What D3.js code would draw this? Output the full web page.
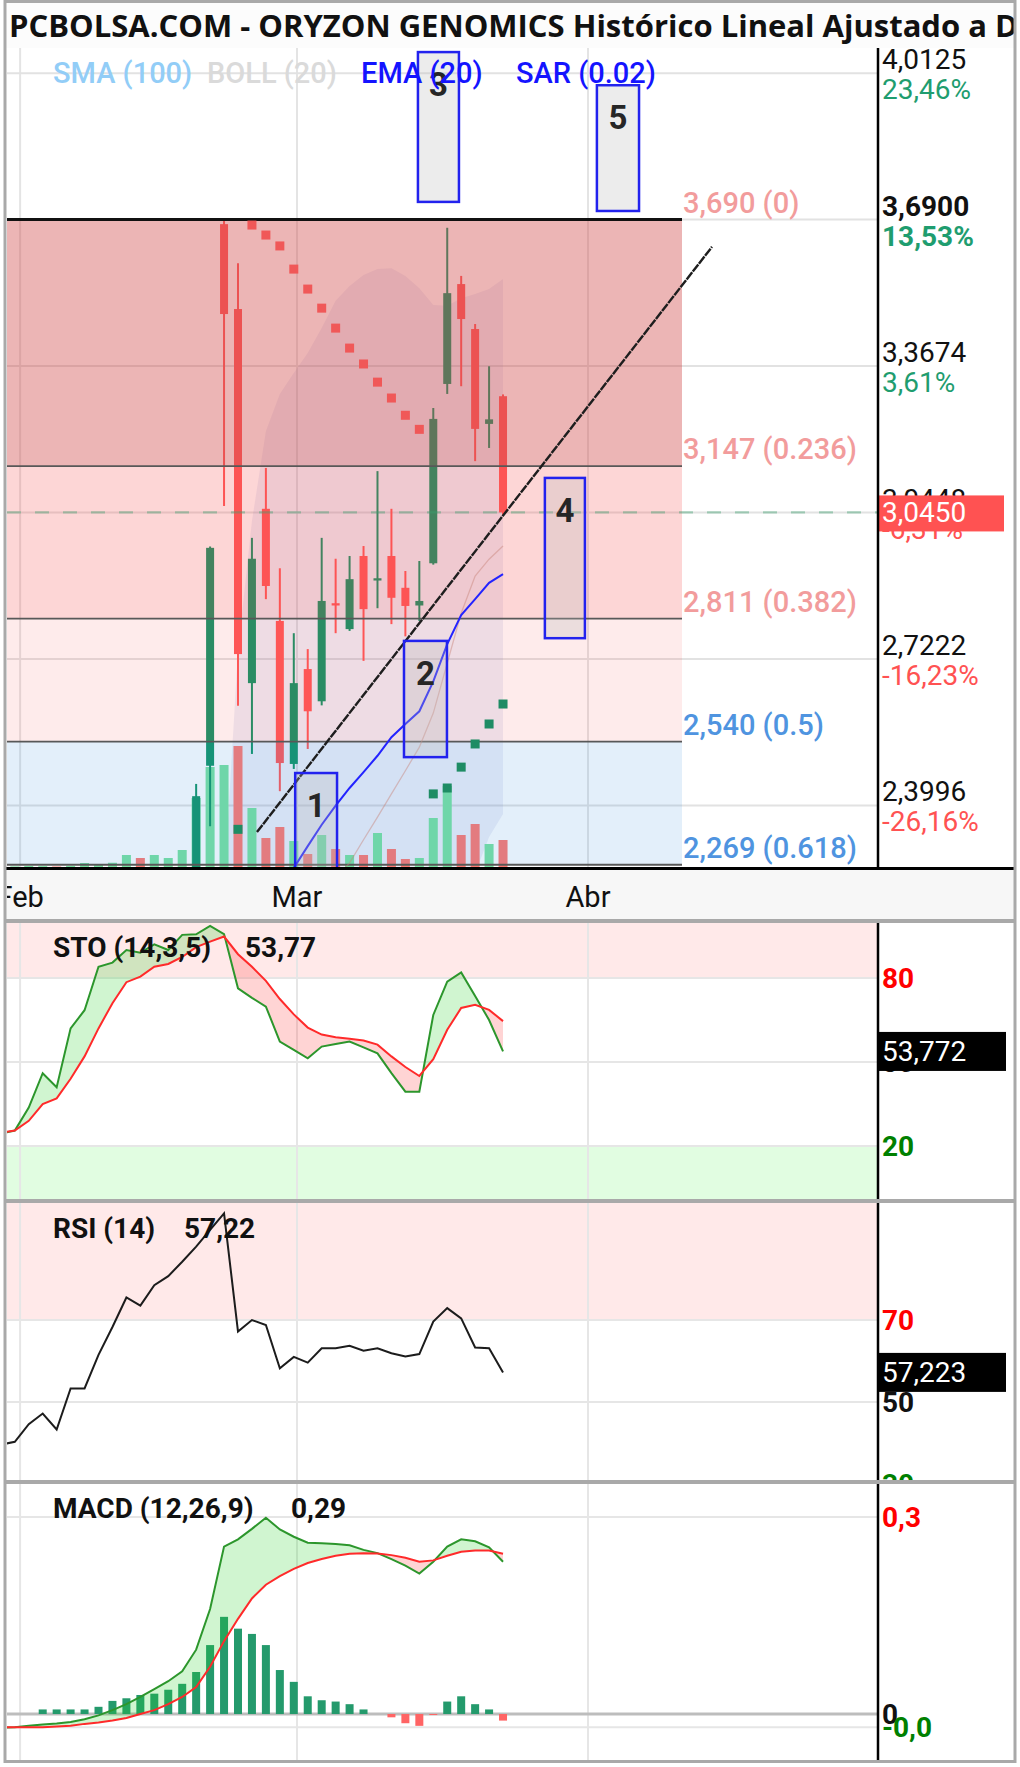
<!DOCTYPE html>
<html>
<head>
<meta charset="utf-8">
<script src="https://cdn.jsdelivr.net/npm/d3@7"></script>
<style>
  body { margin: 0; background: #fff; }
  svg { display: block; font-family: Roboto, "Noto Sans", sans-serif; }
</style>
</head>
<body>
<svg id="chart" width="1020" height="1767"></svg>
<script>
// ---------- data: one entry per trading day (index 0..36) ----------
const title = "PCBOLSA.COM - ORYZON GENOMICS Histórico Lineal Ajustado a D";
const monthLabels = ["Feb", "Mar", "Abr"];
const monthIdx = [1.38, 21.23, 42.09];

const open  = [1.70,1.72,1.73,1.76,1.78,1.75,1.80,1.81,1.86,1.91,1.94,1.92,1.97,1.99,
               2.03,2.487,3.680,3.493,2.669,3.053,2.806,2.491,2.700,2.629,2.845,2.788,2.949,2.895,2.949,2.879,2.840,2.933,3.328,3.548,3.449,3.240,3.301];
const high  = [1.74,1.75,1.78,1.80,1.79,1.82,1.83,1.88,1.93,1.96,1.95,1.99,2.01,2.06,
               2.447,2.970,3.690,3.594,2.989,3.143,2.922,2.779,2.744,2.989,2.943,2.949,2.971,3.136,3.053,2.916,2.938,3.275,3.672,3.566,3.460,3.367,3.305];
const low   = [1.68,1.70,1.72,1.74,1.73,1.74,1.78,1.80,1.84,1.89,1.90,1.91,1.95,1.97,
               2.00,2.354,3.059,2.619,2.513,2.854,2.431,2.480,2.524,2.620,2.779,2.784,2.718,2.834,2.799,2.772,2.806,2.930,3.306,3.323,3.158,3.187,3.040];
const close = [1.72,1.73,1.76,1.78,1.75,1.80,1.81,1.86,1.91,1.94,1.92,1.97,1.99,2.03,
               2.420,2.967,3.482,2.733,2.943,2.883,2.493,2.669,2.607,2.850,2.840,2.898,2.832,2.900,2.857,2.839,2.850,3.251,3.528,3.471,3.229,3.250,3.045];
const volume = [30,25,40,35,20,45,160,80,170,480,360,480,360,680,
                2760,4000,4080,4840,2360,1160,1600,1040,520,1280,720,480,480,1360,720,320,360,1960,3240,1280,1720,920,1080];

const ema20 = [1.72,1.72,1.73,1.73,1.73,1.74,1.74,1.75,1.76,1.78,1.79,1.80,1.82,1.84,1.88,1.96,2.06,2.12,2.17,2.21,2.235,
               2.262,2.310,2.357,2.399,2.438,2.473,2.509,2.550,2.579,2.607,2.673,2.755,2.819,2.854,2.890,2.909];
const bollUp  = [2.02,2.01,2.00,2.00,1.99,1.99,2.00,2.01,2.03,2.05,2.06,2.08,2.10,2.12,2.15,2.19,2.22,
                 2.740,3.026,3.224,3.306,3.352,3.396,3.451,3.511,3.544,3.568,3.581,3.583,3.566,3.539,3.502,3.500,3.517,3.526,3.537,3.559];
const bollMid = [1.80,1.80,1.80,1.79,1.79,1.79,1.79,1.80,1.80,1.81,1.82,1.83,1.84,1.85,1.87,1.90,1.95,1.99,2.04,2.08,2.12,2.15,2.19,2.21,2.24,
                 2.273,2.324,2.374,2.425,2.476,2.528,2.603,2.713,2.823,2.905,2.942,2.971];
const bollLow = [1.58,1.59,1.60,1.58,1.59,1.59,1.58,1.59,1.57,1.57,1.58,1.58,1.58,1.58,1.59,1.61,1.68,1.24,1.06,0.94,
                 0.93,0.94,0.98,0.97,0.97,1.00,1.08,1.17,1.27,1.38,1.52,1.70,1.93,2.13,2.25,2.33,2.381];
const sar = [null,null,null,null,null,null,null,null,null,null,null,null,null,null,null,null,null,
             2.347,3.678,3.656,3.632,3.581,3.537,3.495,3.451,3.407,3.372,3.332,3.297,3.259,3.228,
             2.425,2.438,2.484,2.535,2.579,2.623];

const stoK = [24.5,25.5,33.7,46,41,62,68.5,84,85.5,90,89,92,90,95.4,95.6,98.6,95.7,76.3,72.9,69.8,
              57.3,54.3,51.3,55.5,56.4,57.3,55.2,53.1,46,39.4,39.4,66.8,78.7,82,73.6,65,53.772];
const stoD = [24.8,25.5,29,35,37,44,52,62,71,78.5,80.5,84,85,87.5,91,93,94.8,88.5,84,79,
              72.5,67,62.3,59.8,58.8,58.3,57.7,56.2,52,48.2,45,51,61.5,69.3,70.4,68.6,64.6];
const rsi = [39.6,40.3,44.6,47.2,43.3,53.3,53.3,61.5,68.3,75.5,73.5,78.5,80.7,84.2,87.9,92,96,67.2,70,68.8,
             58.2,61,59.6,63.1,63.1,63.7,62.5,63.1,61.9,61.1,61.7,69.6,72.9,70.4,63.3,63.1,57.223];
const macd = [-0.021,-0.020,-0.018,-0.016,-0.0145,-0.012,-0.008,-0.002,0.006,0.015,0.026,0.038,0.050,0.065,0.098,0.160,0.255,0.266,0.282,0.299,
              0.281,0.270,0.261,0.260,0.259,0.257,0.250,0.245,0.236,0.226,0.214,0.232,0.255,0.266,0.263,0.254,0.232];
const signal = [-0.020,-0.020,-0.020,-0.020,-0.019,-0.018,-0.015,-0.013,-0.010,-0.006,0.000,0.006,0.015,0.026,0.041,0.072,0.111,0.145,0.176,0.197,
                0.210,0.221,0.230,0.236,0.241,0.244,0.245,0.2445,0.242,0.238,0.232,0.234,0.241,0.247,0.249,0.249,0.244];
const hist = [0,0,0,0.007,0.007,0.007,0.007,0.011,0.020,0.024,0.029,0.031,0.037,0.046,0.064,0.105,0.148,0.130,0.122,0.105,
              0.067,0.049,0.027,0.021,0.019,0.015,0.007,0,-0.005,-0.014,-0.018,-0.0015,0.019,0.027,0.015,0.007,-0.010];
const macdShown = 0.29;

// right price axis
const priceTicks = [4.0125, 3.69, 3.3674, 3.0448, 2.7222, 2.3996];
const tickPct = ["23,46%", "13,53%", "3,61%", "-6,31%", "-16,23%", "-26,16%"];

// fibonacci retracement
const fibRatio = ["0", "0.236", "0.382", "0.5", "0.618"];
const fibPrice = [3.690, 3.147, 2.811, 2.540, 2.269];
const fibEndIdx = 48.83;

// drawn annotations (index / price)
const trendIdx = [18.36, 50.98];
const trendPrice = [2.341, 3.630];
const boxLabels = ["1", "2", "3", "4", "5"];
const boxFrom = [21.1, 28.9, 29.9, 39.0, 42.73];
const boxTo   = [24.1, 31.98, 32.84, 41.87, 45.75];
const boxHigh = [2.471, 2.762, 4.059, 3.121, 3.986];
const boxLow  = [2.20, 2.506, 3.729, 2.768, 3.709];

const legendNames = ["SMA (100)", "BOLL (20)", "EMA (20)", "SAR (0.02)"];

// ---------- layout ----------
const W = 1020, H = 1767;
const left = 7, right = 877, axisX = 878;
const mainTop = 48, mainBottom = 867;
const stoP = {top: 923, bottom: 1199};
const rsiP = {top: 1203, bottom: 1480};
const macdP = {top: 1484, bottom: 1760};

const comma = s => s.replace(".", ",");
const idx = d3.range(close.length);

const svg = d3.select("#chart");
const defs = svg.append("defs");
let clipN = 0;
function clip(x0, y0, w, h) {
  const id = "c" + (clipN++);
  defs.append("clipPath").attr("id", id).append("rect")
    .attr("x", x0).attr("y", y0).attr("width", w).attr("height", h);
  return "url(#" + id + ")";
}

// scales
const x = d3.scaleLinear().domain([0.44, 62.81]).range([left, right]);
const y = d3.scaleLinear().domain([2.264, 4.068]).range([mainBottom, mainTop]);
const yVol = d3.scaleLinear().domain([0, d3.max(volume)]).range([0, 121]);
const ySto = d3.scaleLinear().domain([1.07, 99.64]).range([stoP.bottom, stoP.top]);
const yRsi = d3.scaleLinear().domain([30.98, 98.54]).range([rsiP.bottom, rsiP.top]);
const yMacd = d3.scaleLinear().domain([-0.07, 0.3503]).range([macdP.bottom, macdP.top]);

svg.append("rect").attr("width", W).attr("height", H).attr("fill", "#fff");

// ---------- title ----------
svg.append("rect").attr("x", 5).attr("y", 2).attr("width", 1010).attr("height", 46).attr("fill", "#fcfcfc");
svg.append("g").attr("clip-path", clip(5, 0, 1010, 48))
  .append("text")
  .attr("x", 9).attr("y", 37)
  .attr("font-family", "'Open Sans', 'Noto Sans', sans-serif")
  .attr("font-weight", 700).attr("font-size", 31).attr("fill", "#111")
  .text(title);

// ---------- main price chart ----------
const main = svg.append("g").attr("clip-path", clip(left, mainTop, right - left, mainBottom - mainTop));

main.selectAll(".vgrid").data(monthIdx).join("line")
  .attr("x1", d => x(d)).attr("x2", d => x(d))
  .attr("y1", mainTop).attr("y2", mainBottom)
  .attr("stroke", "#e4e4e4").attr("stroke-width", 2);

main.selectAll(".hgrid").data(priceTicks).join("line")
  .attr("x1", left).attr("x2", right)
  .attr("y1", d => y(d)).attr("y2", d => y(d))
  .attr("stroke", "#e2e2e2").attr("stroke-width", 2);

// bollinger band fill
main.append("path").datum(idx)
  .attr("d", d3.area().x(i => x(i)).y0(i => y(bollLow[i])).y1(i => y(bollUp[i])))
  .attr("fill", "rgba(120,130,200,0.13)");

// volume
main.selectAll(".vol").data(idx).join("rect")
  .attr("x", i => x(i) - 4.5).attr("width", 9)
  .attr("y", i => mainBottom - yVol(volume[i]))
  .attr("height", i => yVol(volume[i]))
  .attr("fill", i => (i > 0 && close[i] < close[i - 1]) ? "#ff7a72" : "#7ae3a2");

// candles
const candleColor = i => close[i] >= open[i] ? "#149669" : "#ff5a5a";
main.selectAll(".wick").data(idx).join("line")
  .attr("x1", i => x(i)).attr("x2", i => x(i))
  .attr("y1", i => y(high[i])).attr("y2", i => y(low[i]))
  .attr("stroke", candleColor).attr("stroke-width", 2);
main.selectAll(".body").data(idx).join("rect")
  .attr("x", i => x(i) - 4).attr("width", 8)
  .attr("y", i => y(Math.max(open[i], close[i])))
  .attr("height", i => Math.max(2, Math.abs(y(open[i]) - y(close[i]))))
  .attr("fill", candleColor);

// fibonacci zones (translucent, over the candles)
const zoneColors = ["rgba(207,70,70,0.4)", "rgba(245,60,60,0.21)", "rgba(245,60,60,0.10)", "rgba(40,130,220,0.13)"];
const fibEndX = x(fibEndIdx);
main.selectAll(".fibzone").data(d3.range(fibPrice.length - 1)).join("rect")
  .attr("x", left).attr("width", fibEndX - left)
  .attr("y", k => y(fibPrice[k]))
  .attr("height", k => y(fibPrice[k + 1]) - y(fibPrice[k]))
  .attr("fill", k => zoneColors[k]);
main.selectAll(".fibline").data(fibPrice).join("line")
  .attr("x1", left).attr("x2", fibEndX)
  .attr("y1", d => y(d)).attr("y2", d => y(d))
  .attr("stroke", (d, k) => k === 0 ? "#111" : "#585858")
  .attr("stroke-width", (d, k) => k === 0 ? 3 : 1.8);

// bollinger middle
main.append("path").datum(idx)
  .attr("d", d3.line().x(i => x(i)).y(i => y(bollMid[i])))
  .attr("fill", "none").attr("stroke", "rgba(200,130,120,0.45)").attr("stroke-width", 1.3);

// EMA
main.append("path").datum(idx)
  .attr("d", d3.line().x(i => x(i)).y(i => y(ema20[i])))
  .attr("fill", "none").attr("stroke", "#2323ff").attr("stroke-width", 2);

// SAR
main.selectAll(".sar").data(idx.filter(i => sar[i] !== null)).join("rect")
  .attr("x", i => x(i) - 4.5).attr("y", i => y(sar[i]) - 4.5)
  .attr("width", 9).attr("height", 9)
  .attr("fill", i => sar[i] > close[i] ? "#f05858" : "#1e8c64");

// trend line
main.append("line")
  .attr("x1", x(trendIdx[0])).attr("y1", y(trendPrice[0]))
  .attr("x2", x(trendIdx[1])).attr("y2", y(trendPrice[1]))
  .attr("stroke", "#1e1e1e").attr("stroke-width", 2.4).attr("stroke-dasharray", "9,1");

// last price line
const last = close[close.length - 1];
main.append("line")
  .attr("x1", left).attr("x2", right)
  .attr("y1", y(last)).attr("y2", y(last))
  .attr("stroke", "rgba(60,160,110,0.42)").attr("stroke-width", 2.2).attr("stroke-dasharray", "14,14");

// numbered boxes
const boxes = main.selectAll(".box").data(boxLabels).join("g");
boxes.append("rect")
  .attr("x", (d, k) => x(boxFrom[k])).attr("width", (d, k) => x(boxTo[k]) - x(boxFrom[k]))
  .attr("y", (d, k) => y(boxHigh[k])).attr("height", (d, k) => y(boxLow[k]) - y(boxHigh[k]))
  .attr("fill", "rgba(185,185,185,0.28)").attr("stroke", "#2222ee").attr("stroke-width", 2.5);
boxes.append("text")
  .attr("x", (d, k) => (x(boxFrom[k]) + x(boxTo[k])) / 2)
  .attr("y", (d, k) => y(boxHigh[k]) + 44)
  .attr("text-anchor", "middle").attr("font-size", 33).attr("font-weight", 700).attr("fill", "#262626")
  .text(d => d);

// fib labels
svg.selectAll(".fiblab").data(fibPrice).join("text")
  .attr("x", fibEndX + 1).attr("y", d => y(d) - 7)
  .attr("font-size", 29).attr("font-weight", 500)
  .attr("fill", (d, k) => k < 3 ? "#f29c9c" : "#4f94e0")
  .text((d, k) => comma(d.toFixed(3)) + " (" + fibRatio[k] + ")");

// legend
const legendX = [53, 207, 361, 516];
const legendColors = ["#92cdf7", "#dadada", "#1414ff", "#1414ff"];
svg.selectAll(".legend").data(legendNames).join("text")
  .attr("x", (d, k) => legendX[k]).attr("y", 83)
  .attr("font-size", 29).attr("font-weight", 500)
  .attr("fill", (d, k) => legendColors[k])
  .text(d => d);

// right axis labels
const axisLab = svg.append("g");
priceTicks.forEach((v, k) => {
  axisLab.append("text").attr("x", 882).attr("y", y(v) - 4)
    .attr("font-size", 28).attr("font-weight", v === fibPrice[0] ? 700 : 400).attr("fill", "#111")
    .text(comma(v.toFixed(4)));
  axisLab.append("text").attr("x", 882).attr("y", y(v) + 26)
    .attr("font-size", 28).attr("font-weight", v === fibPrice[0] ? 700 : 400)
    .attr("fill", tickPct[k][0] === "-" ? "#ff5252" : "#1f9d6f")
    .text(tickPct[k]);
});
axisLab.append("rect").attr("x", axisX - 1).attr("y", y(last) - 17).attr("width", 127).attr("height", 36).attr("fill", "#ff5252");
axisLab.append("text").attr("x", 882).attr("y", y(last) + 10)
  .attr("font-size", 28).attr("fill", "#fff").text(comma(last.toFixed(4)));

// x axis strip
svg.append("rect").attr("x", 5).attr("y", 869).attr("width", 1010).attr("height", 51).attr("fill", "#f7f7f7");
svg.append("line").attr("x1", 5).attr("x2", 1015).attr("y1", 868.5).attr("y2", 868.5)
  .attr("stroke", "#000").attr("stroke-width", 3);
svg.append("g").attr("clip-path", clip(left, 870, right - left, 50))
  .selectAll("text").data(monthLabels).join("text")
  .attr("x", (d, k) => x(monthIdx[k])).attr("y", 907)
  .attr("text-anchor", "middle").attr("font-size", 29).attr("fill", "#111")
  .text(d => d);

// ---------- indicator panels ----------
function panel(p, yS, zones, grids) {
  const g = svg.append("g").attr("clip-path", clip(left, p.top, right - left, p.bottom - p.top));
  zones.forEach(z => {
    g.append("rect").attr("x", left).attr("width", right - left)
      .attr("y", yS(z[1])).attr("height", yS(z[0]) - yS(z[1])).attr("fill", z[2]);
  });
  g.selectAll(".vg").data(monthIdx).join("line")
    .attr("x1", d => x(d)).attr("x2", d => x(d)).attr("y1", p.top).attr("y2", p.bottom)
    .attr("stroke", "#e6e6e6").attr("stroke-width", 2);
  grids.forEach(gr => {
    g.append("line").attr("x1", left).attr("x2", right).attr("y1", yS(gr[0])).attr("y2", yS(gr[0]))
      .attr("stroke", gr[1]).attr("stroke-width", gr[2]);
  });
  return g;
}

// fill between two lines: green where a is above b, red where below
function diffFill(g, a, b, yS, p, upColor, downColor) {
  const idA = "d" + (clipN++), idB = "d" + (clipN++);
  defs.append("clipPath").attr("id", idA).append("path").datum(idx)
    .attr("d", d3.area().x(i => x(i)).y0(p.bottom + 50).y1(i => yS(a[i])));
  defs.append("clipPath").attr("id", idB).append("path").datum(idx)
    .attr("d", d3.area().x(i => x(i)).y0(p.top - 50).y1(i => yS(a[i])));
  g.append("path").datum(idx).attr("clip-path", "url(#" + idA + ")")
    .attr("d", d3.area().x(i => x(i)).y0(i => yS(b[i])).y1(p.top - 50)).attr("fill", upColor);
  g.append("path").datum(idx).attr("clip-path", "url(#" + idB + ")")
    .attr("d", d3.area().x(i => x(i)).y0(i => yS(b[i])).y1(p.bottom + 50)).attr("fill", downColor);
}

function valueLabels(p, yS, labels) {
  const g = svg.append("g").attr("clip-path", clip(axisX, p.top, 140, p.bottom - p.top));
  labels.forEach(l => {
    g.append("text").attr("x", 882).attr("y", yS(l[0]) + 10)
      .attr("font-size", 28).attr("font-weight", 700).attr("fill", l[2]).text(l[1]);
  });
  return g;
}

function lastBox(g, p, yS, v) {
  g.append("rect").attr("x", axisX - 1).attr("y", yS(v) - 19.5).attr("width", 129).attr("height", 39).attr("fill", "#000");
  g.append("text").attr("x", 882).attr("y", yS(v) + 10).attr("font-size", 28).attr("fill", "#fff")
    .text(comma(v.toFixed(3)));
}

function panelTitle(yBase, name, value, valueX) {
  svg.append("text").attr("x", 53).attr("y", yBase).attr("font-size", 28).attr("font-weight", 700).attr("fill", "#111").text(name);
  svg.append("text").attr("x", valueX).attr("y", yBase).attr("font-size", 28).attr("font-weight", 700).attr("fill", "#111").text(value);
}

// STO
const stoG = panel(stoP, ySto, [[80, 100, "#ffe9e9"], [0, 20, "#e1fde1"]],
  [[80, "#e6e6e6", 2], [50, "#e6e6e6", 2], [20, "#e6e6e6", 2]]);
diffFill(stoG, stoK, stoD, ySto, stoP, "rgba(40,210,40,0.22)", "rgba(255,40,40,0.2)");
stoG.append("path").datum(idx).attr("d", d3.line().x(i => x(i)).y(i => ySto(stoK[i])))
  .attr("fill", "none").attr("stroke", "#2c962c").attr("stroke-width", 2);
stoG.append("path").datum(idx).attr("d", d3.line().x(i => x(i)).y(i => ySto(stoD[i])))
  .attr("fill", "none").attr("stroke", "#ff2a2a").attr("stroke-width", 2);
const stoLab = valueLabels(stoP, ySto, [[80, "80", "#f00"], [50, "50", "#111"], [20, "20", "#008000"]]);
const stoLast = stoK[stoK.length - 1];
lastBox(stoLab, stoP, ySto, stoLast);
panelTitle(957, "STO (14,3,5)", comma(stoLast.toFixed(2)), 245);

// RSI
const rsiG = panel(rsiP, yRsi, [[70, 100, "#ffe9e9"], [0, 30, "#e1fde1"]],
  [[70, "#e6e6e6", 2], [50, "#e6e6e6", 2], [30, "#e6e6e6", 2]]);
rsiG.append("path").datum(idx).attr("d", d3.line().x(i => x(i)).y(i => yRsi(rsi[i])))
  .attr("fill", "none").attr("stroke", "#1c1c1c").attr("stroke-width", 2);
const rsiLab = valueLabels(rsiP, yRsi, [[70, "70", "#f00"], [50, "50", "#111"], [30, "30", "#008000"]]);
const rsiLast = rsi[rsi.length - 1];
lastBox(rsiLab, rsiP, yRsi, rsiLast);
panelTitle(1238, "RSI (14)", comma(rsiLast.toFixed(2)), 184);

// MACD
const macdG = panel(macdP, yMacd, [],
  [[0.3, "#e6e6e6", 2], [-0.02, "#e6e6e6", 2], [0, "#bdbdbd", 3]]);
macdG.selectAll(".hist").data(idx.filter(i => hist[i] !== 0)).join("rect")
  .attr("x", i => x(i) - 4).attr("width", 8)
  .attr("y", i => yMacd(Math.max(0, hist[i])))
  .attr("height", i => Math.abs(yMacd(hist[i]) - yMacd(0)))
  .attr("fill", i => hist[i] > 0 ? "#249a6c" : "#ff6464");
diffFill(macdG, macd, signal, yMacd, macdP, "rgba(40,210,40,0.22)", "rgba(255,40,40,0.2)");
macdG.append("path").datum(idx).attr("d", d3.line().x(i => x(i)).y(i => yMacd(macd[i])))
  .attr("fill", "none").attr("stroke", "#2c962c").attr("stroke-width", 2);
macdG.append("path").datum(idx).attr("d", d3.line().x(i => x(i)).y(i => yMacd(signal[i])))
  .attr("fill", "none").attr("stroke", "#ff2a2a").attr("stroke-width", 2);
valueLabels(macdP, yMacd, [[0.3, "0,3", "#f00"], [0, "0", "#111"], [-0.02, "-0,0", "#008000"]]);
panelTitle(1518, "MACD (12,26,9)", comma(macdShown.toFixed(2)), 291);

// ---------- frame: axis line, separators, border ----------
[[mainTop, 868], [stoP.top, stoP.bottom], [rsiP.top, rsiP.bottom], [macdP.top, macdP.bottom]].forEach(s => {
  svg.append("line").attr("x1", axisX).attr("x2", axisX).attr("y1", s[0]).attr("y2", s[1])
    .attr("stroke", "#000").attr("stroke-width", 2.5);
});
[921, 1201, 1482].forEach(v => {
  svg.append("line").attr("x1", 5).attr("x2", 1015).attr("y1", v).attr("y2", v)
    .attr("stroke", "#a9a9a9").attr("stroke-width", 4);
});
svg.append("rect").attr("x", 5).attr("y", 1.5).attr("width", 1010).attr("height", 1760)
  .attr("fill", "none").attr("stroke", "#a9a9a9").attr("stroke-width", 3);
</script>
</body>
</html>
